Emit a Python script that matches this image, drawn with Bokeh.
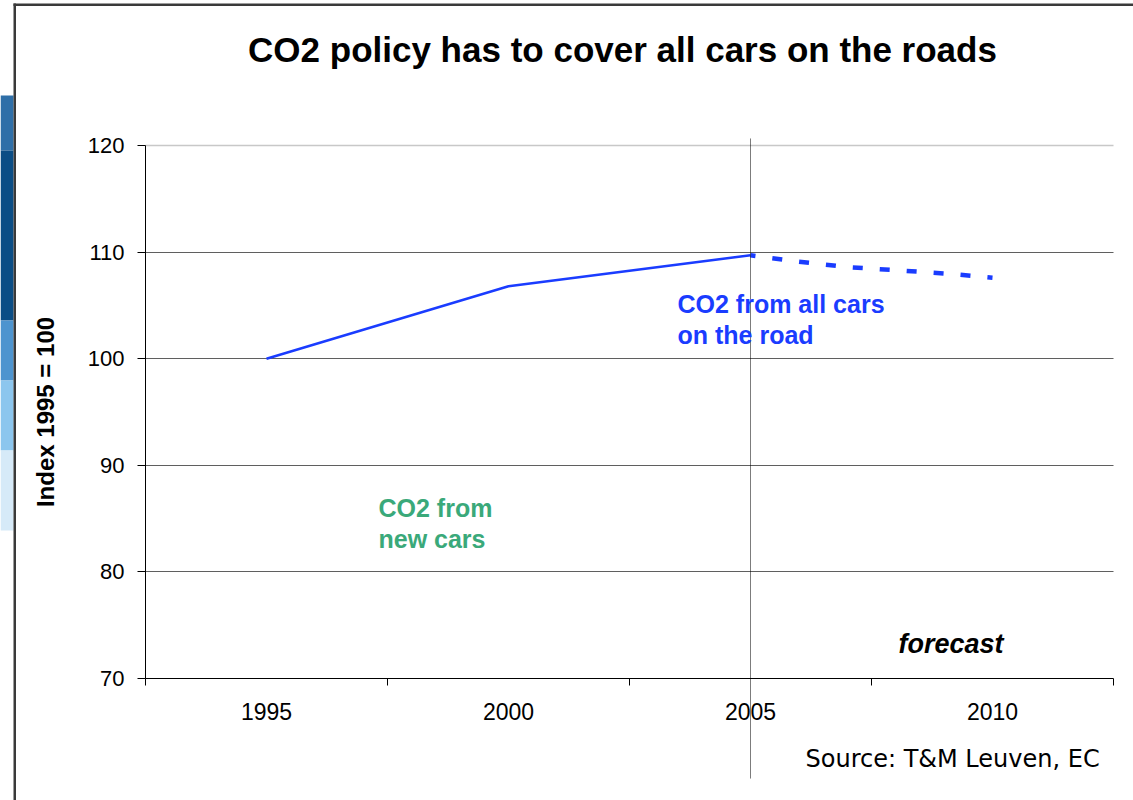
from bokeh.plotting import figure
from bokeh.models import FixedTicker, Label, BoxAnnotation, Range1d, Grid
from bokeh.embed import file_html
from bokeh.resources import INLINE

# ---- data ----
years_hist = [1995, 2000, 2005]
index_hist = [100.0, 106.8, 109.7]
years_forecast = [2005, 2006, 2007, 2008, 2009, 2010]
index_forecast = [109.7, 109.1, 108.6, 108.3, 108.0, 107.6]
x_tick_years = [1995, 2000, 2005, 2010]
x_bounds = [1992.5, 1997.5, 2002.5, 2007.5, 2012.5]
y_ticks = [70, 80, 90, 100, 110, 120]
marker_year = 2005

title_text = "CO2 policy has to cover all cars on the roads"
y_label = "Index 1995 = 100"
all_cars_lines = ["CO2 from all cars", "on the road"]
new_cars_lines = ["CO2 from", "new cars"]
forecast_text = "forecast"
source_text = "Source: T&M Leuven, EC"

BLUE = "#1a3cff"
GREEN = "#3aa97a"
FONT = "Liberation Sans"

# ---- layout (pixels) ----
W, H = 1133, 800
FL, FR, FT, FB = 145, 1113, 145, 678   # chart area inside the slide
x_lo, x_hi = x_bounds[0], x_bounds[-1]
y_lo, y_hi = y_ticks[0], y_ticks[-1]
ppx = (FR - FL) / (x_hi - x_lo)
ppy = (FB - FT) / (y_hi - y_lo)
x_start = x_lo - FL / ppx
x_end = x_hi + (W - FR) / ppx
y_start = y_lo - (H - FB) / ppy
y_end = y_hi + FT / ppy


def dx(px):
    return x_start + px / ppx


def dy(py):
    return y_start + (H - py) / ppy


p = figure(width=W, height=H,
           x_range=Range1d(x_start, x_end), y_range=Range1d(y_start, y_end),
           output_backend="svg", toolbar_location=None,
           min_border=0)
p.outline_line_color = None
p.background_fill_color = "white"
p.border_fill_color = "white"

# x axis
xa = p.xaxis[0]
xa.fixed_location = y_lo
xa.bounds = (x_lo, x_hi)
xa.ticker = FixedTicker(ticks=x_tick_years, minor_ticks=x_bounds)
xa.major_tick_out = 0
xa.major_tick_in = 0
xa.minor_tick_out = 7
xa.minor_tick_in = 0
xa.minor_tick_line_color = "black"
xa.axis_line_color = "black"
xa.major_label_text_font = FONT
xa.major_label_text_font_size = "23px"
xa.major_label_text_color = "black"
xa.major_label_standoff = 17

# y axis
ya = p.yaxis[0]
ya.fixed_location = x_lo
ya.bounds = (y_lo, y_hi)
ya.ticker = FixedTicker(ticks=y_ticks)
ya.major_tick_out = 8
ya.major_tick_in = 0
ya.minor_tick_line_color = None
ya.axis_line_color = "black"
ya.major_label_text_font = FONT
ya.major_label_text_font_size = "22px"
ya.major_label_text_color = "black"
ya.major_label_standoff = 13
ya.axis_label = y_label
ya.axis_label_text_font = FONT
ya.axis_label_text_font_style = "bold"
ya.axis_label_text_font_size = "24px"
ya.axis_label_text_color = "black"
ya.axis_label_standoff = 26

# grid
p.xgrid.visible = False
p.ygrid.ticker = FixedTicker(ticks=y_ticks[1:-1])
p.ygrid.cross_bounds = (x_lo, x_hi)
p.ygrid.grid_line_color = "#5f5f5f"
p.ygrid.grid_line_width = 1
p.add_layout(Grid(dimension=1, ticker=FixedTicker(ticks=[y_hi]), cross_bounds=(x_lo, x_hi),
                  grid_line_color="#c8c8c8", grid_line_width=1.5))

# slide frame lines and side decoration
deco = [(95, 150, "#2f6fa8"), (150, 320, "#0b4d85"), (320, 380, "#4d94cf"),
        (380, 450, "#8cc6ee"), (450, 530, "#d6eaf8")]
for top_px, bot_px, col in deco:
    p.add_layout(BoxAnnotation(left=dx(0), right=dx(13), top=dy(top_px), bottom=dy(bot_px),
                               fill_color=col, fill_alpha=1, line_color=None))
p.add_layout(BoxAnnotation(left=dx(13), right=dx(15.5), top=dy(3), bottom=dy(H),
                           fill_color="#3a3a3a", fill_alpha=1, line_color=None))
p.add_layout(BoxAnnotation(left=dx(13), right=dx(W), top=dy(3), bottom=dy(5.5),
                           fill_color="#3a3a3a", fill_alpha=1, line_color=None))

# data lines
p.line(years_hist, index_hist, line_color=BLUE, line_width=2.5)
p.line(years_forecast, index_forecast, line_color=BLUE, line_width=4.5,
       line_dash="10 17", line_dash_offset=5)

# vertical marker at 2005 reaching beyond the chart area
p.add_layout(BoxAnnotation(left=marker_year, right=marker_year, top=dy(138), bottom=dy(778),
                           fill_alpha=0, line_color="black", line_width=1))


def text(px, py, s, color="black", size="25px", style="bold", align="left", font=FONT):
    p.add_layout(Label(x=dx(px), y=dy(py), text=s, text_align=align,
                       text_baseline="middle", text_font=font, text_font_style=style,
                       text_font_size=size, text_color=color))


text(622, 49, title_text, size="35px", align="center")
text(677, 303, all_cars_lines[0], color=BLUE)
text(677, 334, all_cars_lines[1], color=BLUE)
text(378, 507, new_cars_lines[0], color=GREEN)
text(378, 538, new_cars_lines[1], color=GREEN)
text(898, 643, forecast_text, size="27px", style="bold italic")
text(805, 758, source_text, size="24px", style="normal", font="DejaVu Sans")

open("out.html", "w").write(file_html(p, INLINE))
